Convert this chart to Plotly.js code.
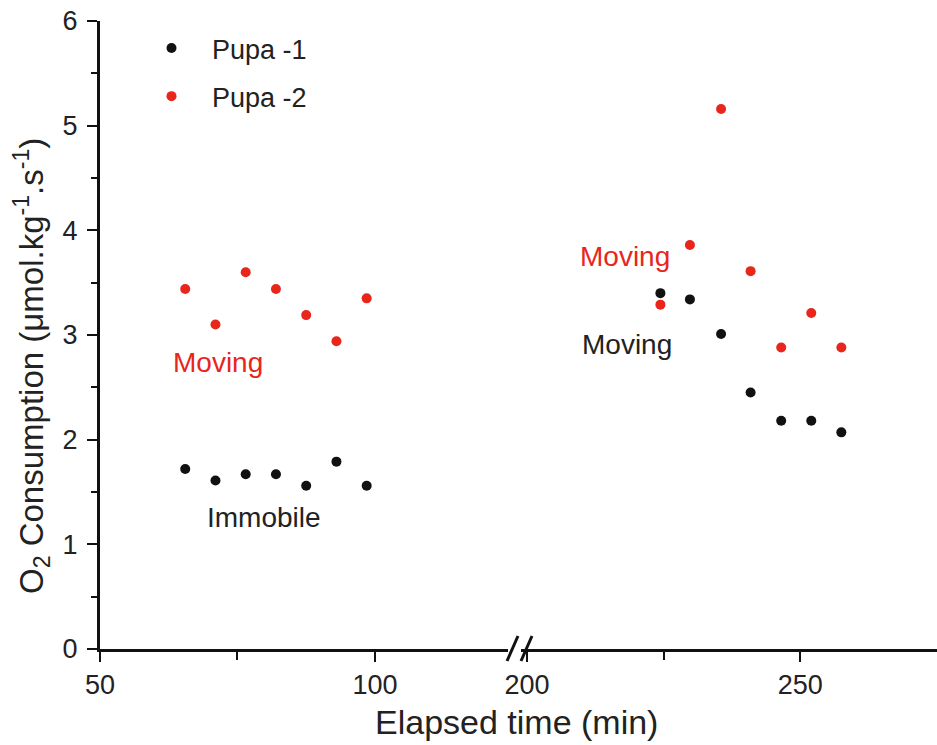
<!DOCTYPE html>
<html>
<head>
<meta charset="utf-8">
<script src="https://cdn.plot.ly/plotly-3.0.1.min.js"></script>
<style>html,body{margin:0;padding:0;background:#fff;}#chart{width:937px;height:745px;}</style>
</head>
<body>
<div id="chart"></div>
<script>
// Left segment (early phase)
const timeLeft = [65.5, 71, 76.5, 82, 87.5, 93, 98.5];
const pupa1Left = [1.72, 1.61, 1.67, 1.67, 1.56, 1.79, 1.56];
const pupa2Left = [3.44, 3.10, 3.60, 3.44, 3.19, 2.94, 3.35];
// Right segment (late phase)
const timeRight = [224.4, 229.8, 235.5, 240.9, 246.5, 252, 257.5];
const pupa1Right = [3.40, 3.34, 3.01, 2.45, 2.18, 2.18, 2.07];
const pupa2Right = [3.29, 3.86, 5.16, 3.61, 2.88, 3.21, 2.88];

const seriesNames = ['Pupa -1', 'Pupa -2'];
const black = '#111111';
const red = '#e8261c';
const font = 'Liberation Sans, Arial, sans-serif';
const narrow = 'Liberation Sans Narrow, Arial Narrow, Liberation Sans, sans-serif';

const W = 937, H = 745;
const mL = 0, mR = 0, mT = 21, mB = 96;
const plotH = H - mT - mB;
const px2x = p => p / W;
const py2y = p => (H - mB - p) / plotH;

const traces = [
  {x: timeLeft, y: pupa1Left, xaxis: 'x', yaxis: 'y', mode: 'markers', type: 'scatter',
   name: seriesNames[0], legendgroup: 'a', marker: {color: black, size: 10}},
  {x: timeLeft, y: pupa2Left, xaxis: 'x', yaxis: 'y', mode: 'markers', type: 'scatter',
   name: seriesNames[1], legendgroup: 'b', marker: {color: red, size: 10}},
  {x: timeRight, y: pupa1Right, xaxis: 'x2', yaxis: 'y', mode: 'markers', type: 'scatter',
   name: seriesNames[0], legendgroup: 'a', showlegend: false, marker: {color: black, size: 10}},
  {x: timeRight, y: pupa2Right, xaxis: 'x2', yaxis: 'y', mode: 'markers', type: 'scatter',
   name: seriesNames[1], legendgroup: 'b', showlegend: false, marker: {color: red, size: 10}}
];

function ax(extra) {
  return Object.assign({
    showline: true, linecolor: black, linewidth: 3, showgrid: false, zeroline: false,
    ticks: 'outside', ticklen: 10, tickwidth: 2, tickcolor: black,
    tickfont: {family: narrow, size: 27, color: '#222'}
  }, extra);
}

const layout = {
  width: W, height: H,
  margin: {l: mL, r: mR, t: mT, b: mB},
  paper_bgcolor: '#fff', plot_bgcolor: 'rgba(0,0,0,0)',
  font: {family: font, color: '#222'},
  showlegend: true,
  legend: {x: px2x(131), y: py2y(24), xanchor: 'left', yanchor: 'top',
           font: {family: font, size: 27, color: '#222'}, bgcolor: 'rgba(0,0,0,0)',
           itemwidth: 71, traceorder: 'grouped', tracegroupgap: 10},
  xaxis: ax({
    domain: [px2x(100), px2x(508)], range: [50, 124.2], anchor: 'y',
    tickvals: [50, 100], ticktext: ['50', '100'],
    minor: {tickvals: [75], ticks: 'outside', ticklen: 8, tickwidth: 2, tickcolor: black}
  }),
  xaxis2: ax({
    domain: [px2x(521), 1], range: [198.9, 275], anchor: 'y',
    tickvals: [200, 250], ticktext: ['200', '250'],
    minor: {tickvals: [225], ticks: 'outside', ticklen: 8, tickwidth: 2, tickcolor: black}
  }),
  yaxis: ax({
    domain: [0, 1], range: [0, 6], anchor: 'x',
    tickvals: [0, 1, 2, 3, 4, 5, 6], ticklabelstandoff: 4,
    minor: {dtick: 0.5, ticks: 'outside', ticklen: 6, tickwidth: 2, tickcolor: black}
  }),
  shapes: [
    {type: 'line', xref: 'paper', yref: 'paper', x0: px2x(507), y0: py2y(661), x1: px2x(518), y1: py2y(636),
     line: {color: black, width: 3}},
    {type: 'line', xref: 'paper', yref: 'paper', x0: px2x(521), y0: py2y(661), x1: px2x(532), y1: py2y(636),
     line: {color: black, width: 3}}
  ],
  annotations: [
    {x: px2x(32), y: py2y(366), xref: 'paper', yref: 'paper', xanchor: 'center', yanchor: 'middle',
     textangle: -90, showarrow: false,
     text: 'O<sub>2</sub> Consumption (μmol.kg<sup>-1</sup>.s<sup>-1</sup>)',
     font: {family: font, size: 33, color: '#222'}},
    {x: px2x(516), y: py2y(722), xref: 'paper', yref: 'paper', xanchor: 'center', yanchor: 'middle',
     text: 'Elapsed time (min)', showarrow: false,
     font: {family: font, size: 34, color: '#222'}},
    {x: 71.5, y: 2.74, xref: 'x', yref: 'y', text: 'Moving', showarrow: false,
     font: {family: font, size: 28, color: red}},
    {x: 79.8, y: 1.26, xref: 'x', yref: 'y', text: 'Immobile', showarrow: false,
     font: {family: font, size: 28, color: '#222'}},
    {x: 218, y: 3.75, xref: 'x2', yref: 'y', text: 'Moving', showarrow: false,
     font: {family: font, size: 28, color: red}},
    {x: 218.2, y: 2.91, xref: 'x2', yref: 'y', text: 'Moving', showarrow: false,
     font: {family: font, size: 28, color: '#222'}}
  ]
};

Plotly.newPlot('chart', traces, layout, {displayModeBar: false, staticPlot: true});
</script>
</body>
</html>
